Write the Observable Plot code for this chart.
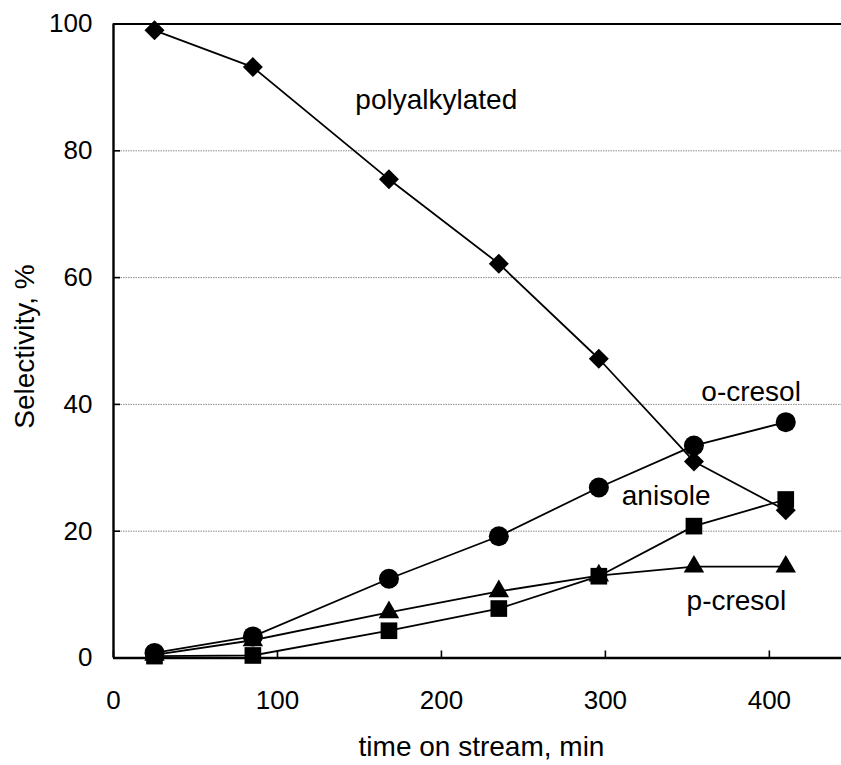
<!DOCTYPE html>
<html>
<head>
<meta charset="utf-8">
<script src="https://cdn.jsdelivr.net/npm/d3@7"></script>
<script src="https://cdn.jsdelivr.net/npm/@observablehq/plot@0.6"></script>
<style>
  html, body { margin: 0; padding: 0; background: #fff; }
  #chart svg { display: block; }
</style>
</head>
<body>
<div id="chart"></div>
<script>
// Time on stream (min) and product selectivities (%)
const time = [25, 85, 168, 235, 296, 354, 410];
const polyalkylated = [99.0, 93.2, 75.5, 62.2, 47.2, 31.0, 23.3];
const oCresol = [0.8, 3.4, 12.5, 19.2, 26.9, 33.5, 37.2];
const anisole = [0.3, 0.4, 4.3, 7.8, 12.9, 20.8, 25.0];
const pCresol = [0.5, 2.8, 7.2, 10.5, 13.0, 14.4, 14.4];

const seriesNames = ["polyalkylated", "p-cresol", "o-cresol", "anisole"];
const xTicks = [0, 100, 200, 300, 400];
const yTicks = [0, 20, 40, 60, 80, 100];
const gridTicks = [20, 40, 60, 80];

const seriesValues = {
  "polyalkylated": polyalkylated,
  "p-cresol": pCresol,
  "o-cresol": oCresol,
  "anisole": anisole
};
const symbols = {
  "polyalkylated": {symbol: "diamond2", r: 9},
  "p-cresol": {symbol: "triangle", r: 7.6},
  "o-cresol": {symbol: "circle", r: 10},
  "anisole": {symbol: "square", r: 9.4}
};

const rows = seriesNames.flatMap(name =>
  time.map((t, i) => ({series: name, time: t, value: seriesValues[name][i]}))
);

const font = "'Liberation Sans', Arial, sans-serif";

const lineMarks = seriesNames.map(name =>
  Plot.line(rows.filter(d => d.series === name), {
    x: "time", y: "value", stroke: "#000", strokeWidth: 1.8
  })
);
const dotMarks = seriesNames.map(name =>
  Plot.dot(rows.filter(d => d.series === name), {
    x: "time", y: "value", fill: "#000", stroke: "none",
    symbol: () => symbols[name].symbol, r: symbols[name].r
  })
);

// Series labels placed beside their curves
const seriesLabels = [
  {text: "polyalkylated", x: 147.5, y: 88.0},
  {text: "o-cresol", x: 358.5, y: 41.9},
  {text: "anisole", x: 310, y: 25.6},
  {text: "p-cresol", x: 349.5, y: 9.0}
];

const chart = Plot.plot({
  width: 841,
  height: 765,
  marginLeft: 113,
  marginRight: 0,
  marginTop: 23.5,
  marginBottom: 107.5,
  style: {fontFamily: font, background: "#fff", color: "#000", overflow: "visible"},
  x: {domain: [0, 444]},
  y: {domain: [0, 100]},
  marks: [
    Plot.gridY(gridTicks, {stroke: "#8a8a8a", strokeOpacity: 1, strokeWidth: 1, strokeDasharray: "1.5,1"}),
    Plot.ruleY([100], {stroke: "#000", strokeWidth: 2}),
    Plot.ruleX([0], {stroke: "#000", strokeWidth: 2.4}),
    Plot.ruleY([0], {stroke: "#000", strokeWidth: 2.4}),
    // inward tick marks
    Plot.axisY(yTicks, {tickSize: 7, dx: 7, text: null, label: null, stroke: "#000", strokeWidth: 1.6}),
    Plot.axisX(xTicks, {tickSize: 7, dy: -7, text: null, label: null, stroke: "#000", strokeWidth: 1.6}),
    // tick labels
    Plot.axisY(yTicks, {tickSize: 0, tickPadding: 21, label: null, fontSize: 26, fill: "#000"}),
    Plot.axisX(xTicks, {tickSize: 0, tickPadding: 33, label: null, fontSize: 26, fill: "#000"}),
    ...lineMarks,
    ...dotMarks,
    Plot.text(seriesLabels, {x: "x", y: "y", text: "text", textAnchor: "start", lineAnchor: "middle", fontSize: 28, fill: "#000"}),
    Plot.text(["time on stream, min"], {frameAnchor: "bottom", textAnchor: "middle", lineAnchor: "middle", dx: 4, dy: 89, fontSize: 28, fill: "#000"}),
    Plot.text(["Selectivity, %"], {frameAnchor: "left", textAnchor: "middle", lineAnchor: "middle", dx: -88.3, dy: 5.5, rotate: -90, fontSize: 28, fill: "#000"})
  ]
});

document.getElementById("chart").appendChild(chart);
</script>
</body>
</html>
